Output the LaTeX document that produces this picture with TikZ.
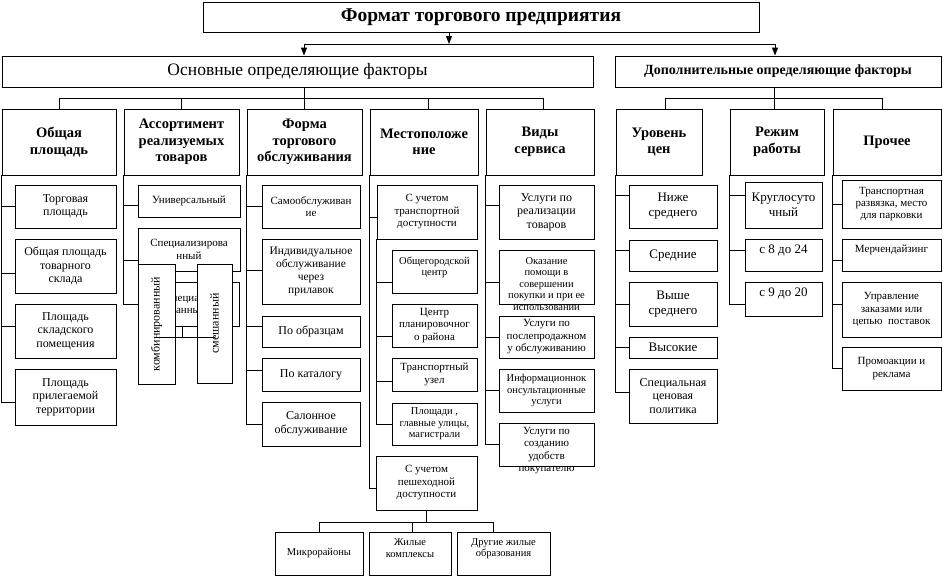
\documentclass[tikz,border=0pt]{standalone}
\usepackage{fontspec}
\setmainfont{Liberation Serif}
\usetikzlibrary{arrows.meta}
\tikzset{
 ln/.style={line width=0.9pt},
 box/.style={draw,line width=0.9pt,fill=white,inner sep=1pt,align=center,font=\fontsize{12}{13.5}\selectfont},
 txt/.style={align=center,inner sep=0pt,font=\fontsize{12}{13.5}\selectfont},
 hdr/.style={font=\bfseries\fontsize{14.5}{16.5}\selectfont},
 arr/.style={ln,-{Triangle[width=6pt,length=8pt]}},
 fa/.style={font=\fontsize{10.5}{11.5}\selectfont},
 fb/.style={font=\fontsize{11}{12.5}\selectfont},
 fc/.style={font=\fontsize{13}{15}\selectfont},
}
% [opts]{name}{x1}{y1}{x2}{y2}{text}
\newcommand\mybox[7][]{\node[box,#1,minimum width={(#5-#3)*1pt},minimum height={(#6-#4)*1pt}] (#2) at ({(#3+#5)/2},{(#4+#6)/2}) {#7};}
% [opts]{name}{x1}{y1}{x2}{y2}{dy}{text}
\newcommand\tbox[8][]{\node[box,minimum width={(#5-#3)*1pt},minimum height={(#6-#4)*1pt}] (#2) at ({(#3+#5)/2},{(#4+#6)/2}) {};
 \node[txt,#1] (#2t) at ([yshift=#7pt]#2.center) {#8};}
\newcommand\mystub[3]{\draw[ln] (#1) |- ([yshift=#3pt]#2.west);}
\begin{document}
\begin{tikzpicture}[x=1pt,y=-1pt]
\useasboundingbox (0,0) rectangle (943,576);
% top level
\mybox[font=\bfseries\fontsize{19.5}{21}\selectfont]{title}{203}{2}{759}{32}{Формат торгового предприятия}
\mybox[font=\fontsize{17.5}{19}\selectfont]{osn}{2}{56}{593}{87}{Основные определяющие факторы}
\mybox[font=\bfseries\fontsize{14}{15}\selectfont]{dop}{615}{56}{941}{87}{Дополнительные определяющие факторы}
% headers
\mybox[hdr]{h1}{2}{109}{116}{175}{Общая\\площадь}
\mybox[hdr]{h2}{124}{109}{239}{175}{Ассортимент\\реализуемых\\товаров}
\mybox[hdr]{h3}{247}{109}{362}{175}{Форма\\торгового\\обслуживания}
\mybox[hdr]{h4}{370}{109}{478}{175}{Местоположе\\ние}
\mybox[hdr]{h5}{486}{109}{594}{175}{Виды\\сервиса}
\mybox[hdr]{d1}{616}{109}{702}{175}{Уровень\\цен}
\mybox[hdr]{d2}{730}{109}{824}{175}{Режим\\работы}
\mybox[hdr]{d3}{833}{109}{941}{175}{Прочее}
% Общая площадь
\mybox{c11}{15}{185}{116}{228}{Торговая\\площадь}
\mybox{c12}{15}{239}{116}{293}{Общая площадь\\товарного\\склада}
\mybox{c13}{15}{304}{116}{358}{Площадь\\складского\\помещения}
\mybox{c14}{15}{369}{116}{425}{Площадь\\прилегаемой\\территории}
% Ассортимент
\mybox[fb]{a1}{138}{185}{240}{217}{Универсальный}
\mybox[fb]{a2}{138}{228}{240}{271}{Специализирова\\нный}
\mybox[fb]{uzk}{138}{282}{239}{326}{Узкоспециализиро\\ванный}
\node[box,rotate=90,minimum width=120pt,minimum height=37pt] (komb) at (156.5,324) {комбинированный};
\node[box,rotate=90,minimum width=119pt,minimum height=35pt] (smesh) at (214.5,323.5) {смешанный};
% Форма
\mybox[fb]{f1}{262}{185}{360}{228}{Самообслуживан\\ие}
\mybox[font=\fontsize{11.5}{12.7}\selectfont]{f2}{262}{239}{360}{304}{Индивидуальное\\обслуживание\\через\\прилавок}
\mybox{f3}{262}{316}{360}{347}{По образцам}
\mybox{f4}{262}{358}{360}{391}{По каталогу}
\mybox{f5}{262}{402}{360}{446}{Салонное\\обслуживание}
% Местоположение
\mybox[fb]{tr}{377}{185}{477}{239}{С учетом\\транспортной\\доступности}
\tbox[fa]{s1}{392}{250}{477}{293}{4}{Общегородской\\центр}
\mybox[fb]{s2}{392}{304}{477}{347}{Центр\\планировочног\\о района}
\mybox[fb]{s3}{392}{358}{477}{391}{Транспортный\\узел}
\mybox[fa]{s4}{392}{403}{477}{445}{Площади ,\\главные улицы,\\магистрали}
\mybox[fb]{pesh}{376}{456}{477}{510}{С учетом\\пешеходной\\доступности}
\mybox[fa]{b1}{275}{532}{363}{575}{Микрорайоны}
\tbox[fa]{b2}{369}{532}{451}{575}{5.5}{Жилые\\комплексы}
\tbox[fa]{b3}{457}{532}{550}{575}{5}{Другие жилые\\образования}
% Виды сервиса
\mybox{v1}{499}{185}{594}{239}{Услуги по\\реализации\\товаров}
\tbox[fa]{v2}{499}{250}{594}{304}{-7}{Оказание\\помощи в\\совершении\\покупки и при ее\\использовании}
\mybox[fb]{v3}{499}{316}{594}{358}{Услуги по\\послепродажном\\у обслуживанию}
\mybox[fa]{v4}{499}{369}{594}{412}{Информационнок\\онсультационные\\услуги}
\tbox[fb]{v5}{499}{423}{594}{466}{-6}{Услуги по\\созданию\\удобств\\покупателю}
% Уровень цен
\mybox[fc]{u1}{629}{185}{717}{228}{Ниже\\среднего}
\mybox[fc]{u2}{629}{240}{717}{271}{Средние}
\mybox[fc]{u3}{629}{282}{717}{326}{Выше\\среднего}
\mybox[fc]{u4}{629}{337}{717}{358}{Высокие}
\mybox{u5}{629}{369}{717}{423}{Специальная\\ценовая\\политика}
% Режим работы
\mybox[fc]{r1}{745}{182}{822}{228}{Круглосуто\\чный}
\tbox[fc]{r2}{745}{239}{822}{271}{5}{с 8 до 24}
\tbox[fc]{r3}{745}{282}{822}{316}{6}{с 9 до 20}
% Прочее
\mybox[font=\fontsize{11}{12}\selectfont]{p1}{842}{180}{941}{228}{Транспортная\\развязка, место\\для парковки}
\tbox[fb]{p2}{842}{239}{941}{271}{5}{Мерчендайзинг}
\mybox[fb]{p3}{842}{282}{941}{337}{Управление\\заказами или\\цепью~~поставок}
\mybox[fb]{p4}{842}{347}{941}{390}{Промоакции и\\реклама}
% arrows at top
\coordinate (j0) at (449,44);
\coordinate (osnA) at ([xshift=6.5pt]osn.north);
\coordinate (dopA) at ([xshift=-3pt]dop.north);
\draw[arr] (title.south -| j0) -- (j0);
\draw[arr] (j0) -| (osnA);
\draw[arr] (j0) -| (dopA);
% header buses
\coordinate (bus1) at (0,98);
\coordinate (h4n) at ([xshift=4pt]h4.north);
\coordinate (h5n) at ([xshift=3pt]h5.north);
\coordinate (d1n) at ([xshift=6pt]d1.north);
\coordinate (d2n) at ([xshift=-3pt]d2.north);
\coordinate (d3n) at ([xshift=-5pt]d3.north);
\draw[ln] (osn.south -| h3.north) -- (h3.north);
\draw[ln] (h1.north) |- (h5n |- bus1) -- (h5n);
\draw[ln] (h2.north) -- (h2.north |- bus1);
\draw[ln] (h4n) -- (h4n |- bus1);
\draw[ln] (dop.south -| d2n) -- (d2n);
\draw[ln] (d1n) |- (d3n |- bus1) -- (d3n);
% stubs
\mystub{h1.south west}{c11}{0}
\mystub{h1.south west}{c12}{-7}
\mystub{h1.south west}{c13}{5}
\mystub{h1.south west}{c14}{-5}
\mystub{h2.south west}{a1}{-4}
\mystub{h2.south west}{a2}{-11}
\mystub{h2.south west}{uzk}{0}
\mystub{h3.south west}{f1}{0}
\mystub{h3.south west}{f2}{1.5}
\mystub{h3.south west}{f3}{5.5}
\mystub{h3.south west}{f4}{4.5}
\mystub{h3.south west}{f5}{0}
\mystub{h4.south west}{tr}{-5}
\mystub{h4.south west}{pesh}{-5}
\mystub{tr.south west}{s1}{-10.5}
\mystub{tr.south west}{s2}{-10.5}
\mystub{tr.south west}{s3}{-6.5}
\mystub{tr.south west}{s4}{0}
\mystub{h5.south west}{v1}{7}
\mystub{h5.south west}{v2}{-5}
\mystub{h5.south west}{v3}{0}
\mystub{h5.south west}{v4}{0}
\mystub{h5.south west}{v5}{0}
\mystub{d1.south west}{u1}{11.5}
\mystub{d1.south west}{u2}{5.5}
\mystub{d1.south west}{u3}{0}
\mystub{d1.south west}{u4}{0}
\mystub{d1.south west}{u5}{4}
\mystub{d2.south west}{r1}{10}
\mystub{d2.south west}{r2}{5}
\mystub{d2.south west}{r3}{-5}
\mystub{d3.south west}{p1}{0}
\mystub{d3.south west}{p2}{-5}
\mystub{d3.south west}{p3}{5.5}
\mystub{d3.south west}{p4}{0}
% fork under the narrow-assortment box
\coordinate (fk) at (182,337);
\draw[ln] (uzk.south -| fk) -- (fk);
\draw[ln] (komb.center |- fk) -- (smesh.center |- fk);
% bottom fork
\coordinate (bb) at (427,522);
\coordinate (b2n) at ([xshift=2pt]b2.north);
\coordinate (b3n) at ([xshift=-10.5pt]b3.north);
\draw[ln] (pesh.south) -- (pesh.south |- bb);
\draw[ln] (b1.north) |- (b3n |- bb) -- (b3n);
\draw[ln] (b2n) -- (b2n |- bb);
\end{tikzpicture}
\end{document}
